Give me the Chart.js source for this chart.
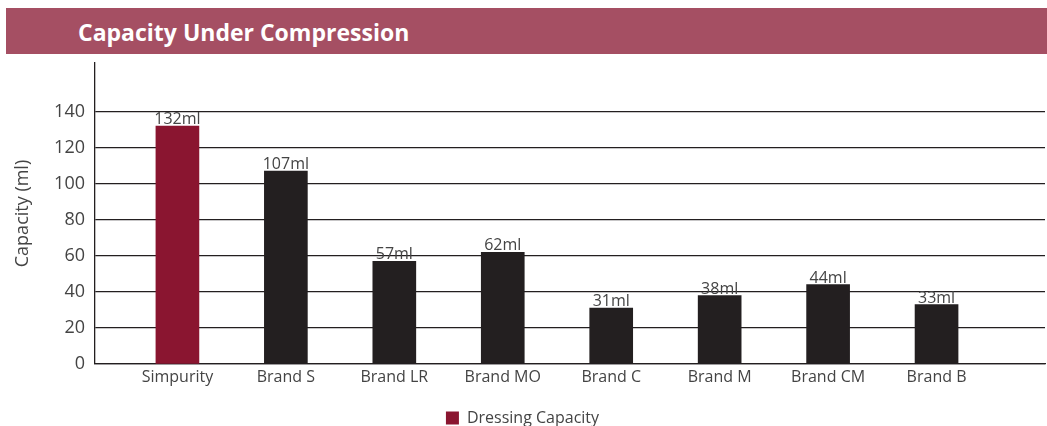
<!DOCTYPE html>
<html>
<head>
<meta charset="utf-8">
<script src="https://cdn.jsdelivr.net/npm/chart.js@4"></script>
<style>
  body { margin: 0; background: #fff; }
  #wrap { position: relative; width: 1047px; height: 426px; overflow: hidden; }
  #head {
    position: absolute; left: 6px; top: 8px; width: 1041px; height: 46px;
    background: #a54f63; color: #fff; z-index: 2;
    font-family: "Open Sans", sans-serif; font-weight: 700; font-size: 23px;
    line-height: 48px; padding-left: 72px; box-sizing: border-box;
  }
  canvas { position: absolute; left: 0; top: 0; }
</style>
</head>
<body>
<div id="wrap">
  <div id="head">Capacity Under Compression</div>
  <canvas id="myChart" width="1047" height="426"></canvas>
</div>
<script>
var brands = ["Simpurity", "Brand S", "Brand LR", "Brand MO", "Brand C", "Brand M", "Brand CM", "Brand B"];
var capacity = [132, 107, 57, 62, 31, 38, 44, 33];
var yTicks = [0, 20, 40, 60, 80, 100, 120, 140];
var barColors = ["#8a1530", "#231f20", "#231f20", "#231f20", "#231f20", "#231f20", "#231f20", "#231f20"];

var pts = [];
for (var i = 0; i < brands.length; i++) {
  pts.push({ x: i, y: capacity[i] });
}

var valueLabels = {
  id: "valueLabels",
  afterDatasetsDraw: function(chart) {
    var c = chart.ctx;
    var meta = chart.getDatasetMeta(0);
    c.save();
    c.font = "16px 'Open Sans'";
    c.fillStyle = "#444";
    c.textAlign = "center";
    c.textBaseline = "alphabetic";
    meta.data.forEach(function(bar, i) {
      c.fillText(capacity[i] + "ml", bar.x, bar.y - 2);
    });
    c.restore();
  }
};

var ctx = document.getElementById("myChart").getContext("2d");
var myChart = new Chart(ctx, {
  type: "bar",
  data: {
    datasets: [{
      label: "Dressing Capacity",
      data: pts,
      backgroundColor: barColors,
      barThickness: 43
    }]
  },
  options: {
    responsive: false,
    animation: false,
    layout: { padding: { top: 63, right: 2, left: 0, bottom: -10 } },
    scales: {
      x: {
        type: "linear",
        offset: false,
        min: -0.76,
        max: 8,
        afterBuildTicks: function(scale) {
          scale.ticks = brands.map(function(b, i) { return { value: i }; });
        },
        afterFit: function(scale) { scale.height = 45; },
        grid: { display: false, drawTicks: false },
        border: { display: true, color: "#231f20", width: 1.3 },
        ticks: {
          padding: 4,
          color: "#444",
          font: { family: "Open Sans", size: 16 },
          maxRotation: 0,
          autoSkip: false,
          callback: function(v) { return brands[v]; }
        }
      },
      y: {
        min: 0,
        max: 167,
        afterBuildTicks: function(scale) {
          scale.ticks = yTicks.map(function(v) { return { value: v }; });
        },
        afterFit: function(scale) { scale.width = 95; },
        grid: { color: "#231f20", lineWidth: 1.3, drawTicks: false },
        border: { display: true, color: "#231f20", width: 1.3 },
        ticks: {
          padding: 10,
          color: "#444",
          font: { family: "Open Sans", size: 18 }
        },
        title: {
          display: true,
          text: "Capacity (ml)",
          color: "#444",
          font: { family: "Open Sans", size: 18 },
          padding: { top: 12, bottom: 0 }
        }
      }
    },
    plugins: {
      legend: {
        position: "bottom",
        labels: {
          boxWidth: 13,
          boxHeight: 13,
          padding: 1,
          color: "#444",
          font: { family: "Open Sans", size: 16 }
        }
      },
      tooltip: { enabled: false }
    }
  },
  plugins: [valueLabels]
});
</script>
</body>
</html>
